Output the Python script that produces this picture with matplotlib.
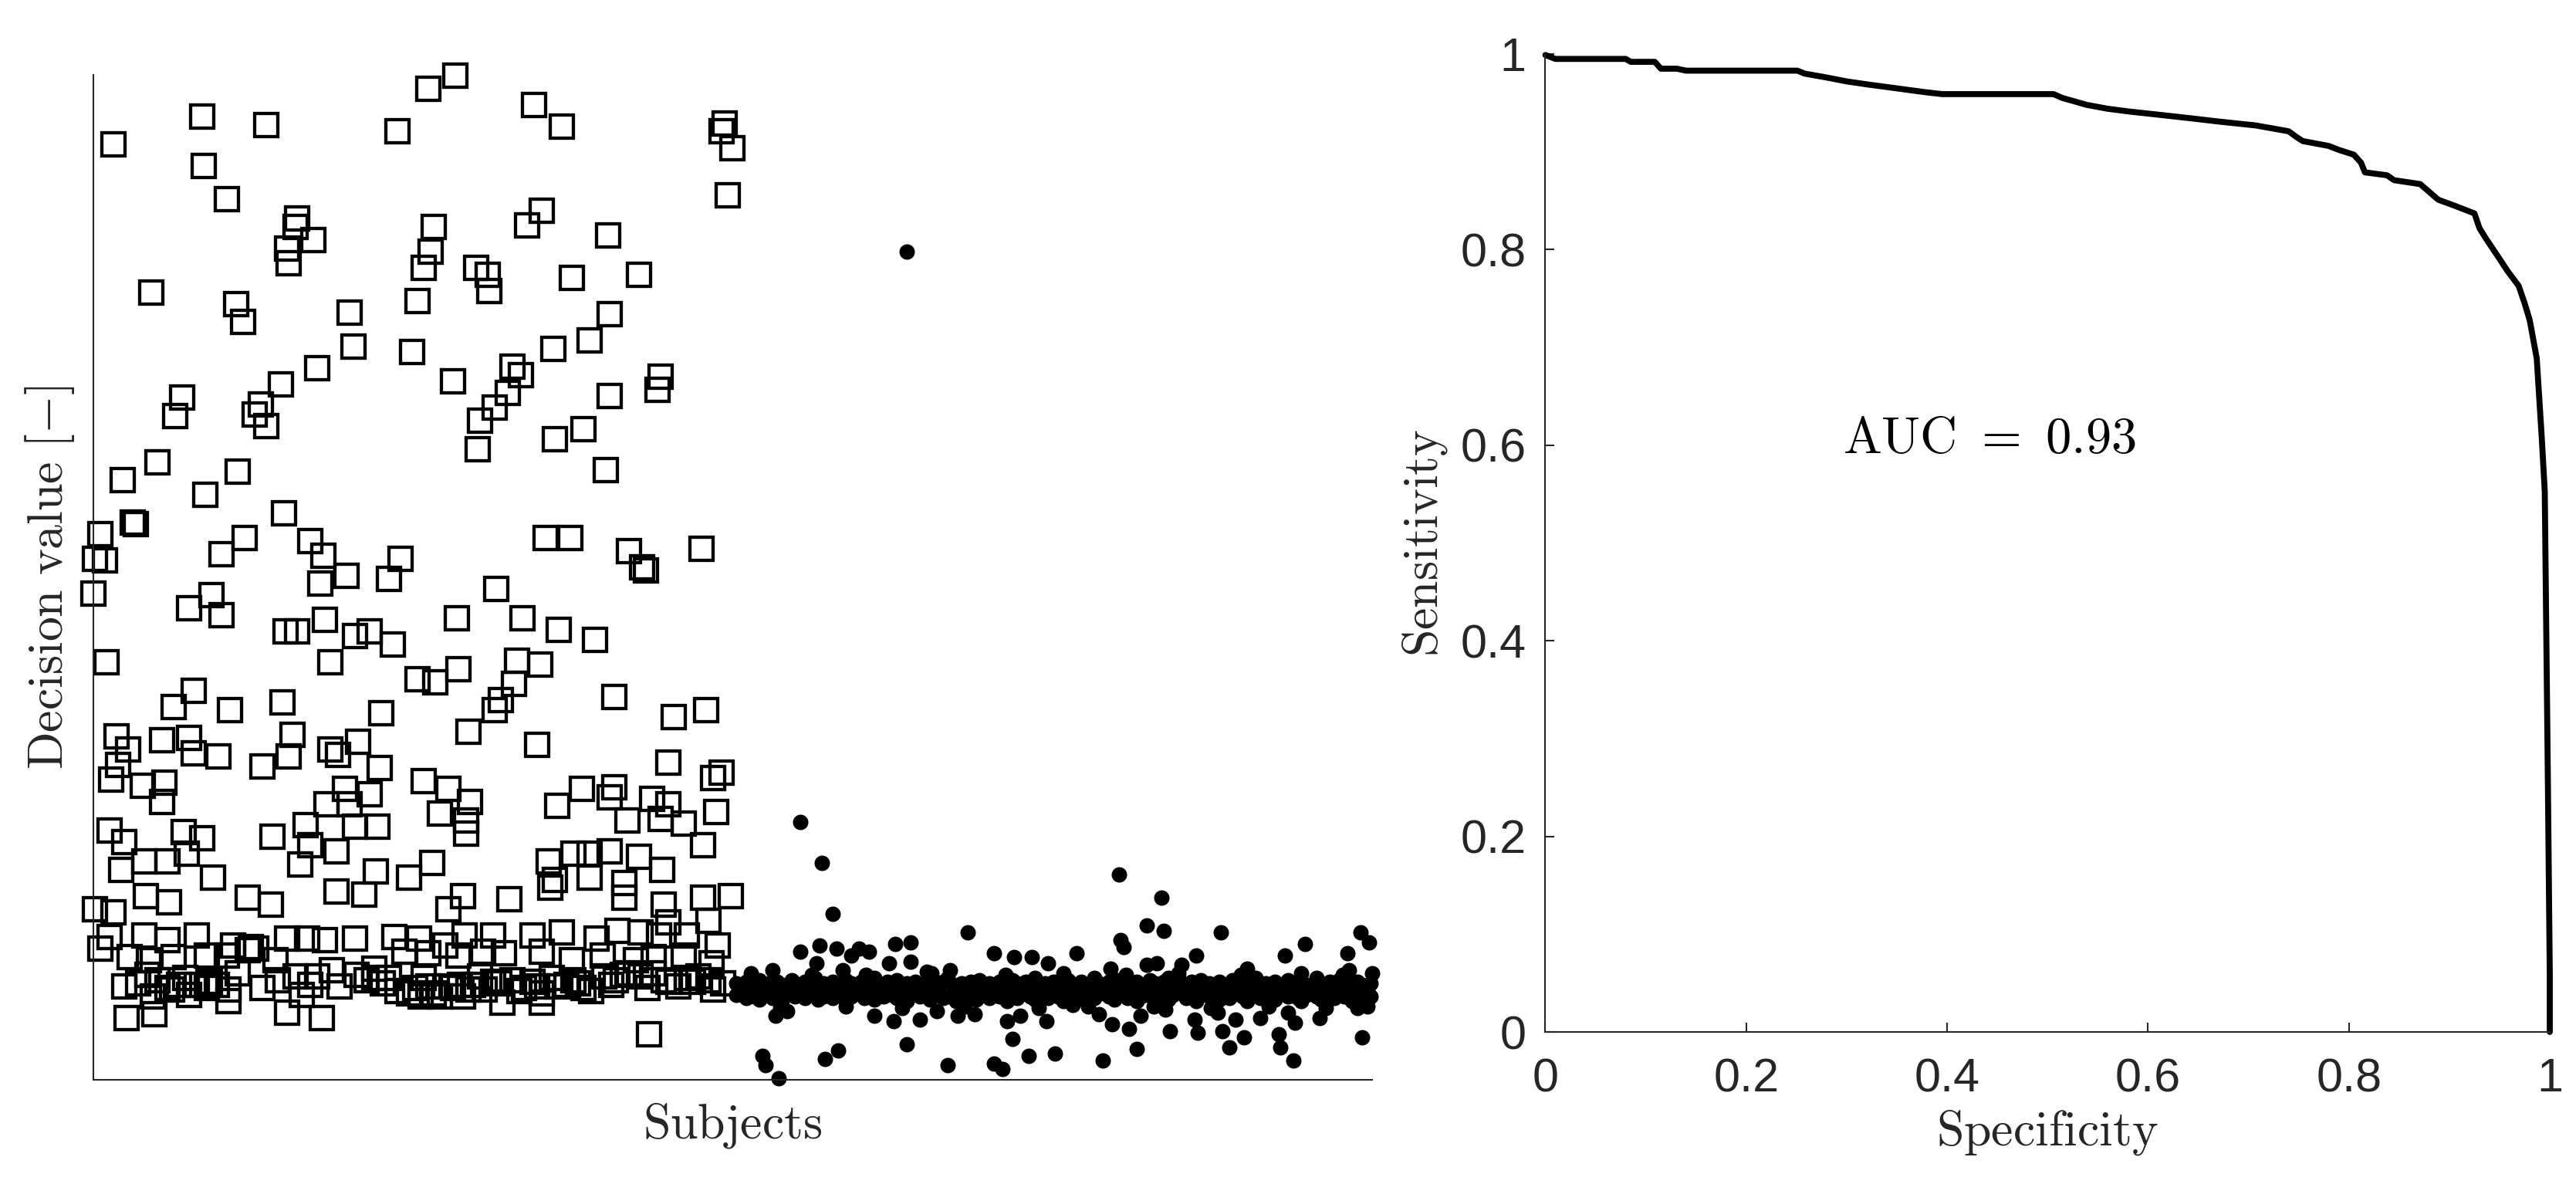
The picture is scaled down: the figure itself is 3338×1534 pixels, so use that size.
import numpy as np
import matplotlib
matplotlib.use('Agg')
from matplotlib import pyplot as plt

# ---- left panel: decision values per subject ----
# squares: positive subjects (index, decision value)
sq_idx = [12, 66, 105, 185, 204, 220, 268, 285, 384, 382, 389, 386, 67, 81, 124, 123, 134, 118, 119, 207,
          205, 201, 273, 264, 313, 233, 240, 241, 291, 332, 35, 87, 91, 156, 197, 314, 158, 194, 280, 302,
          136, 255, 260, 219, 345, 343, 114, 314, 252, 244, 235, 234, 54, 50, 102, 98, 105, 298, 281, 312,
          39, 18, 88, 68, 116, 24, 26, 4, 1, 7, 92, 78, 132, 140, 154, 138, 187, 180, 275, 290,
          326, 334, 336, 370, 245, 0,
          58, 72, 78, 117, 124, 141, 159, 168, 182, 144, 221, 261, 283, 305, 8, 197, 208, 222, 258, 272,
          256, 248, 244, 228, 317, 353, 373, 61, 49, 83, 115, 175, 270, 14, 21, 42, 58, 61, 76, 15,
          11, 30, 43, 42, 103, 119, 121, 144, 149, 161, 174, 153, 168, 142, 156, 201, 216, 229, 211, 227,
          227, 350, 377, 382, 297, 282, 317, 314, 340, 350, 379, 325, 345, 359, 371, 10, 19, 55, 66, 109,
          129, 132, 148, 159, 173, 126, 17, 31, 45, 57, 73, 277, 292, 302, 314, 332, 346, 281, 302, 323,
          172, 192, 206, 148, 165, 32, 46, 94, 108, 1, 12, 225, 253, 278, 347, 371, 388, 216, 323, 350,
          374,
          10, 31, 45, 63, 85, 96, 118, 130, 141, 159, 183, 198, 214, 226, 243, 267, 285, 306, 319, 333,
          344, 361, 380,
          4, 22, 34, 49, 69, 81, 99, 111, 145, 171, 189, 204, 222, 237, 250, 273, 291, 310, 330, 341,
          359, 376,
          19, 39, 52, 63, 75, 82, 123, 132, 171, 180, 196, 207, 219, 231, 243, 255, 267, 273, 288, 298,
          318, 333, 350, 365, 377,
          36, 58, 82, 127, 199, 211, 225, 249, 273, 20, 37, 118, 139, 338,
          192, 204, 223, 238, 262, 282, 292, 166, 311, 361, 374, 45, 69, 94, 326, 341,
          27, 33, 48, 56, 71, 88, 103, 112, 136, 150, 160, 176, 185, 201, 214, 228, 235, 247, 259, 270,
          279, 295, 303, 315, 322, 337, 347, 356, 368, 383]
sq_val = [4.69, 4.86, 4.81, 4.77, 5.03, 5.11, 4.93, 4.80, 4.82, 4.77, 4.67, 4.38, 4.56, 4.36, 4.24, 4.19, 4.11, 4.06, 3.97, 4.19,
          4.04, 3.94, 4.29, 4.20, 4.14, 3.94, 3.90, 3.80, 3.88, 3.90, 3.79, 3.72, 3.61, 3.67, 3.74, 3.66, 3.46, 3.43, 3.45, 3.50,
          3.33, 3.34, 3.29, 3.25, 3.28, 3.20, 3.23, 3.16, 3.18, 3.09, 3.01, 2.84, 3.15, 3.04, 3.11, 3.05, 2.98, 2.96, 2.90, 2.71,
          2.76, 2.65, 2.70, 2.56, 2.45, 2.39, 2.38, 2.32, 2.17, 2.16, 2.30, 2.20, 2.28, 2.19, 2.07, 2.02, 2.17, 2.05, 2.30, 2.30,
          2.22, 2.12, 2.10, 2.23, 1.99, 1.96,
          1.87, 1.95, 1.83, 1.73, 1.73, 1.80, 1.70, 1.73, 1.65, 1.54, 1.81, 1.81, 1.74, 1.68, 1.54, 1.44, 1.42, 1.50, 1.55, 1.53,
          1.41, 1.31, 1.25, 1.12, 1.33, 1.21, 1.25, 1.37, 1.27, 1.25, 1.30, 1.23, 1.04, 1.09, 1.01, 1.07, 1.08, 0.99, 0.97, 0.92,
          0.83, 0.79, 0.81, 0.69, 0.91, 0.97, 1.10, 1.01, 0.98, 1.06, 0.90, 0.77, 0.74, 0.68, 0.68, 0.82, 0.77, 0.69, 0.62, 0.58,
          0.50, 0.93, 0.84, 0.87, 0.77, 0.67, 0.78, 0.72, 0.71, 0.68, 0.63, 0.58, 0.59, 0.56, 0.43, 0.52, 0.45, 0.51, 0.47, 0.48,
          0.55, 0.43, 0.39, 0.54, 0.54, 0.31, 0.28, 0.33, 0.33, 0.38, 0.23, 0.33, 0.38, 0.38, 0.39, 0.36, 0.28, 0.22, 0.23, 0.20,
          0.27, 0.23, 0.32, 0.15, 0.13, 0.12, 0.08, 0.11, 0.07, 0.04, 0.02, 0.12, 0.10, 0.17, 0.07, 0.11, 0.12, 0.04, 0.11, -0.04,
          -0.03,
          -0.13, -0.12, -0.15, -0.12, -0.18, -0.19, -0.14, -0.14, -0.15, -0.14, -0.13, -0.14, -0.18, -0.12, -0.12, -0.12, -0.10, -0.14, -0.09, -0.10,
          -0.12, -0.12, -0.18,
          -0.20, -0.25, -0.27, -0.25, -0.24, -0.24, -0.20, -0.27, -0.33, -0.32, -0.22, -0.23, -0.24, -0.22, -0.23, -0.22, -0.27, -0.24, -0.27, -0.25,
          -0.24, -0.29,
          -0.43, -0.39, -0.42, -0.42, -0.42, -0.45, -0.37, -0.42, -0.38, -0.38, -0.44, -0.47, -0.44, -0.42, -0.40, -0.39, -0.40, -0.47, -0.42, -0.44,
          -0.39, -0.37, -0.40, -0.40, -0.45,
          -0.49, -0.48, -0.52, -0.48, -0.49, -0.49, -0.49, -0.53, -0.53, -0.62, -0.60, -0.59, -0.62, -0.72,
          -0.47, -0.43, -0.42, -0.45, -0.44, -0.43, -0.39, -0.39, -0.37, -0.38, -0.39, -0.44, -0.44, -0.21, -0.35, -0.35,
          -0.41, -0.36, -0.45, -0.38, -0.40, -0.35, -0.44, -0.39, -0.37, -0.43, -0.36, -0.41, -0.46, -0.38, -0.43, -0.45, -0.37, -0.41, -0.46, -0.43,
          -0.38, -0.41, -0.46, -0.42, -0.36, -0.44, -0.39, -0.43, -0.37, -0.41]

# dots: negative subjects, dense band
band_idx = [391, 394, 397, 399, 402, 405, 408, 411, 413, 416, 419, 422, 425, 427, 430, 433, 436, 439, 441, 444,
            447, 450, 453, 455, 458, 461, 464, 467, 469, 472, 475, 478, 481, 483, 486, 489, 492, 495, 497, 500,
            503, 506, 509, 511, 514, 517, 520, 523, 525, 528, 531, 534, 537, 539, 542, 545, 548, 551, 553, 556,
            559, 562, 565, 567, 570, 573, 576, 579, 581, 584, 587, 590, 593, 595, 598, 601, 604, 607, 609, 612,
            615, 618, 621, 623, 626, 629, 632, 635, 637, 640, 643, 646, 649, 651, 654, 657, 660, 663, 665, 668,
            671, 674, 677, 679, 682, 685, 688, 691, 693, 696, 699, 702, 705, 707, 710, 713, 716, 719, 721, 724,
            727, 730, 733, 735, 738, 741, 744, 747, 749, 752, 755, 758, 761, 763, 766, 769, 772, 775, 777]
band_a = [-0.41, -0.43, -0.40, -0.44, -0.42, -0.39, -0.43, -0.41, -0.45, -0.40, -0.42, -0.44, -0.39, -0.41, -0.43, -0.40, -0.42, -0.38, -0.44, -0.41,
          -0.43, -0.40, -0.42, -0.45, -0.39, -0.41, -0.44, -0.40, -0.42, -0.43, -0.38, -0.41, -0.44, -0.40, -0.42, -0.39, -0.43, -0.41, -0.45, -0.40,
          -0.42, -0.44, -0.39, -0.41, -0.43, -0.40, -0.38, -0.42, -0.44, -0.41, -0.43, -0.40, -0.42, -0.39, -0.45, -0.41, -0.43, -0.40, -0.42, -0.44,
          -0.39, -0.41, -0.43, -0.40, -0.42, -0.38, -0.44, -0.41, -0.43, -0.40, -0.42, -0.45, -0.39, -0.41, -0.44, -0.40, -0.42, -0.43, -0.38, -0.41,
          -0.44, -0.40, -0.42, -0.39, -0.43, -0.41, -0.45, -0.40, -0.42, -0.44, -0.39, -0.41, -0.43, -0.40, -0.38, -0.42, -0.44, -0.41, -0.43, -0.40,
          -0.42, -0.39, -0.45, -0.41, -0.43, -0.40, -0.42, -0.44, -0.39, -0.41, -0.43, -0.40, -0.42, -0.38, -0.44, -0.41, -0.43, -0.40, -0.42, -0.45,
          -0.39, -0.41, -0.44, -0.40, -0.42, -0.43, -0.38, -0.41, -0.44, -0.40, -0.42, -0.39, -0.43, -0.41, -0.45, -0.40, -0.42, -0.44, -0.41]
band_b = [-0.48, -0.46, -0.50, -0.47, -0.49, -0.51, -0.46, -0.48, -0.50, -0.47, -0.52, -0.48, -0.46, -0.49, -0.47, -0.50, -0.48, -0.46, -0.51, -0.49,
          -0.47, -0.50, -0.46, -0.48, -0.52, -0.49, -0.47, -0.46, -0.50, -0.48, -0.51, -0.47, -0.49, -0.46, -0.48, -0.50, -0.47, -0.52, -0.48, -0.46,
          -0.49, -0.47, -0.51, -0.48, -0.46, -0.50, -0.49, -0.47, -0.52, -0.48, -0.46, -0.49, -0.51, -0.47, -0.48, -0.50, -0.46, -0.49, -0.47, -0.52,
          -0.48, -0.50, -0.46, -0.47, -0.49, -0.51, -0.48, -0.46, -0.50, -0.47, -0.49, -0.52, -0.48, -0.46, -0.51, -0.47, -0.49, -0.48, -0.50, -0.46,
          -0.47, -0.49, -0.51, -0.48, -0.46, -0.50, -0.47, -0.52, -0.49, -0.48, -0.46, -0.50, -0.47, -0.49, -0.51, -0.48, -0.46, -0.47, -0.50, -0.49,
          -0.52, -0.48, -0.46, -0.49, -0.47, -0.51, -0.48, -0.50, -0.46, -0.47, -0.49, -0.52, -0.48, -0.46, -0.50, -0.49, -0.47, -0.51, -0.48, -0.46,
          -0.49, -0.47, -0.50, -0.52, -0.48, -0.46, -0.49, -0.51, -0.47, -0.48, -0.50, -0.46, -0.49, -0.47, -0.52, -0.48, -0.50, -0.46, -0.49]
# dots: scattered negatives off the band
dot_idx = [430, 443, 450, 532, 624, 650, 641, 651, 686, 625, 627, 737, 771, 776, 763, 725, 671, 598, 581, 521,
           497, 488, 497, 452, 442, 430, 466, 472, 461, 440, 548, 571, 560, 484, 702, 662, 647, 641, 619, 764,
           778, 413, 507, 456, 495,
           415, 422, 475, 487, 503, 513, 526, 536, 556, 564, 580, 596, 612, 620, 630, 637, 652, 670, 684, 695,
           710, 727, 731, 746, 769, 655, 672, 687, 700, 721, 559, 495, 772,
           407, 409, 417, 445, 453, 520, 548, 553, 569, 585, 614, 635, 691, 722, 730,
           400, 418, 437, 458, 470, 492, 510, 530, 555, 575, 590, 605, 628, 645, 660, 680, 698, 715, 735, 750,
           760, 775]
dot_val = [0.57, 0.32, 0.01, -0.10, 0.25, 0.11, -0.06, -0.09, -0.10, -0.15, -0.19, -0.17, -0.10, -0.16, -0.23, -0.24, -0.24, -0.23, -0.29, -0.33,
           -0.16, -0.17, -0.28, -0.20, -0.18, -0.22, -0.20, -0.22, -0.24, -0.29, -0.23, -0.25, -0.25, -0.29, -0.32, -0.30, -0.29, -0.30, -0.32, -0.33,
           -0.35, -0.33, -0.34, -0.33, 4.04,
           -0.61, -0.58, -0.61, -0.64, -0.63, -0.58, -0.61, -0.60, -0.64, -0.61, -0.64, -0.54, -0.60, -0.66, -0.69, -0.61, -0.57, -0.63, -0.59, -0.63,
           -0.62, -0.59, -0.65, -0.62, -0.56, -0.70, -0.71, -0.70, -0.74, -0.72, -0.75, -0.78, -0.74,
           -0.85, -0.91, -0.99, -0.87, -0.82, -0.91, -0.90, -0.93, -0.85, -0.84, -0.88, -0.81, -0.80, -0.80, -0.88,
           -0.35, -0.56, -0.36, -0.55, -0.36, -0.56, -0.35, -0.55, -0.36, -0.56, -0.35, -0.55, -0.36, -0.55, -0.35, -0.56, -0.36, -0.55, -0.35, -0.56,
           -0.36, -0.55]

# ---- right panel: ROC curve ----
specificity = [0, 0.010, 0.080, 0.085, 0.109, 0.115, 0.131, 0.140, 0.251, 0.258, 0.280, 0.300, 0.320, 0.349, 0.378, 0.395,
               0.506, 0.515, 0.539, 0.560, 0.583, 0.610, 0.645, 0.670, 0.707, 0.740, 0.748, 0.754, 0.780, 0.790, 0.805,
               0.812, 0.816, 0.838, 0.845, 0.871, 0.880, 0.889, 0.905, 0.925, 0.930, 0.936, 0.951, 0.958, 0.969, 0.975,
               0.980, 0.987, 0.992, 0.995, 0.998, 1.0, 1.0]
sensitivity = [0.999, 0.995, 0.995, 0.992, 0.992, 0.985, 0.985, 0.983, 0.983, 0.980, 0.976, 0.972, 0.969, 0.965, 0.961, 0.959,
               0.959, 0.955, 0.948, 0.944, 0.941, 0.938, 0.934, 0.931, 0.927, 0.921, 0.915, 0.911, 0.906, 0.902, 0.897,
               0.889, 0.879, 0.876, 0.871, 0.867, 0.859, 0.851, 0.845, 0.837, 0.822, 0.812, 0.789, 0.778, 0.763, 0.745,
               0.728, 0.689, 0.608, 0.553, 0.268, 0.059, 0.0]
roc_ticks = [0, 0.2, 0.4, 0.6, 0.8, 1]
roc_ticklabels = ['0', '0.2', '0.4', '0.6', '0.8', '1']
auc = 0.93

plt.rcParams['mathtext.fontset'] = 'cm'
plt.rcParams['font.family'] = ['Liberation Sans', 'DejaVu Sans']
axcol = '#262626'

fig = plt.figure(figsize=(16.69, 7.67), dpi=200)

ax1 = fig.add_axes([0.03625, 0.08768, 0.49640, 0.84916])
ax1.plot(sq_idx, sq_val, 's', ms=10.5, mfc='none', mec='k', mew=1.55, clip_on=False)
ax1.plot(band_idx, band_a, 'o', ms=7.2, mfc='k', mec='none', clip_on=False)
ax1.plot(band_idx, band_b, 'o', ms=7.2, mfc='k', mec='none', clip_on=False)
ax1.plot(dot_idx, dot_val, 'o', ms=7.2, mfc='k', mec='none', clip_on=False)
ax1.set_xlim(0, 778)
ax1.set_ylim(-1.0, 5.115)
ax1.set_xticks([])
ax1.set_yticks([])
for s in ['top', 'right']:
    ax1.spines[s].set_visible(False)
for s in ['left', 'bottom']:
    ax1.spines[s].set_linewidth(0.75)
    ax1.spines[s].set_color(axcol)
ax1.set_xlabel(r'$\mathrm{Subjects}$', fontsize=23, color=axcol, labelpad=10)
ax1.set_ylabel(r'$\mathrm{Decision\ value\ [-]}$', fontsize=23, color=axcol, labelpad=8)

ax2 = fig.add_axes([0.59991, 0.12842, 0.38991, 0.82595])
ax2.plot(specificity, sensitivity, '-', c='k', lw=2.8, solid_capstyle='round', clip_on=False)
ax2.set_xlim(0, 1)
ax2.set_ylim(0, 1)
ax2.set_xticks(roc_ticks)
ax2.set_xticklabels(roc_ticklabels)
ax2.set_yticks(roc_ticks)
ax2.set_yticklabels(roc_ticklabels)
ax2.tick_params(direction='in', length=4.2, width=0.75, colors=axcol, labelsize=22)
ax2.tick_params(axis='x', pad=12)
ax2.tick_params(axis='y', pad=9)
for s in ['top', 'right']:
    ax2.spines[s].set_visible(False)
for s in ['left', 'bottom']:
    ax2.spines[s].set_linewidth(0.75)
    ax2.spines[s].set_color(axcol)
ax2.set_xlabel(r'$\mathrm{Specificity}$', fontsize=23, color=axcol, labelpad=3)
ax2.set_ylabel(r'$\mathrm{Sensitivity}$', fontsize=23, color=axcol, labelpad=5)
ax2.text(0.442, 0.605, r'$\mathrm{AUC\ =\ %.2f}$' % auc, ha='center', va='center',
         fontsize=24, color='k')

fig.savefig('out.png', dpi=200)
